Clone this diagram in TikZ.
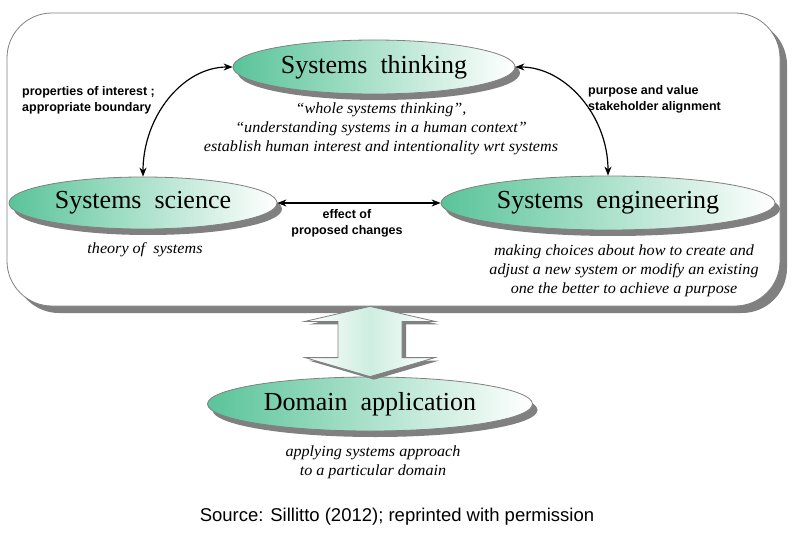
\documentclass[tikz,border=0pt]{standalone}
\usepackage{fontspec}
\setmainfont{Liberation Serif}
\newfontfamily\lblfont{Liberation Sans}
\newfontfamily\descfont[FakeStretch=1.04]{Liberation Serif}
\usetikzlibrary{shapes.geometric,shadows,calc,arrows.meta}
\definecolor{mygreen}{RGB}{60,185,135}
\definecolor{shgray}{RGB}{128,128,128}
\begin{document}
\begin{tikzpicture}[x=1pt,y=-1pt,
  ell/.style={ellipse, draw=shgray, line width=0.8pt, left color=mygreen!85, right color=white,
    inner sep=0pt, font=\fontsize{26}{28}\selectfont,
    drop shadow={shadow xshift=5pt, shadow yshift=-6pt, opacity=1, fill=shgray}},
  desc/.style={font=\descfont\fontsize{15.5}{19}\selectfont\itshape, align=center},
  lbl/.style={font=\lblfont\bfseries\fontsize{12.5}{16}\selectfont, inner sep=0pt},
  conn/.style={line width=1.2pt, {Stealth[length=9pt,width=7pt]}-{Stealth[length=9pt,width=7pt]}},
  framebox/.style={draw=shgray, line width=0.8pt, fill=white, rounded corners=45pt,
    drop shadow={shadow xshift=7pt, shadow yshift=-7pt, opacity=1, fill=shgray}}
]
\useasboundingbox (0,0) rectangle (797,540);

% outer frame
\node[framebox, minimum width=773pt, minimum height=293pt] (frame) at (393.5,159.5) {};

% ellipses
\node[ell, minimum width=282pt, minimum height=54pt] (think) at (374,67) {Systems\ \ thinking};
\node[ell, minimum width=268pt, minimum height=52pt] (sci) at (143,203) {Systems\ \ science};
\node[ell, minimum width=334pt, minimum height=54pt] (eng) at (608,203) {Systems\ \ engineering};

% descriptions
\node[desc] (thinkdesc) at (381,129) {“whole systems thinking”,\\“understanding systems in a human context”\\establish human interest and intentionality wrt systems};
\node[desc] (scidesc) at (145,250) {theory of\ \ systems};
\node[desc] (engdesc) at (624,271) {making choices about how to create and\\adjust a new system or modify an existing\\one the better to achieve a purpose};

% labels
\node[lbl, anchor=west, align=left] (lblA) at (22,100) {properties of interest ;\\appropriate boundary};
\node[lbl, anchor=west, align=left] (lblB) at (588,99) {purpose and value\\stakeholder alignment};
\node[lbl, align=center] (lblC) at (347,223) {effect of\\proposed changes};

% connectors
\draw[conn] (sci.north) .. controls +(0,-60) and +(-50,0) .. (think.west);
\draw[conn] (think.east) .. controls +(50,0) and +(0,-60) .. (eng.north);
\draw[conn] (sci.east) -- (eng.west);

% domain node
\node[ell, minimum width=325pt, minimum height=54pt] (dom) at (370,404) {Domain\ \ application};

% block arrow
\coordinate (btop) at (frame.south -| dom.north);
\coordinate (bbot) at (dom.north);
\fill[shgray, transform canvas={shift={(4pt,-3pt)}}]
  (btop) -- ($(btop)+(-65,15)$) -- ($(btop)+(-32,15)$) -- ($(bbot)+(-32,-19)$) -- ($(bbot)+(-65,-19)$) -- (bbot)
  -- ($(bbot)+(65,-19)$) -- ($(bbot)+(32,-19)$) -- ($(btop)+(32,15)$) -- ($(btop)+(65,15)$) -- cycle;
\draw[shgray, line width=0.8pt, left color=white, right color=white, middle color=mygreen!25]
  (btop) -- ($(btop)+(-65,15)$) -- ($(btop)+(-32,15)$) -- ($(bbot)+(-32,-19)$) -- ($(bbot)+(-65,-19)$) -- (bbot)
  -- ($(bbot)+(65,-19)$) -- ($(bbot)+(32,-19)$) -- ($(btop)+(32,15)$) -- ($(btop)+(65,15)$) -- cycle;

\node[desc] (domdesc) at (373,462) {applying systems approach\\to a particular domain};

\node[font=\lblfont\fontsize{18.5}{20}\selectfont] (src) at (397,517) {Source: Sillitto (2012); reprinted with permission};
\end{tikzpicture}
\end{document}
